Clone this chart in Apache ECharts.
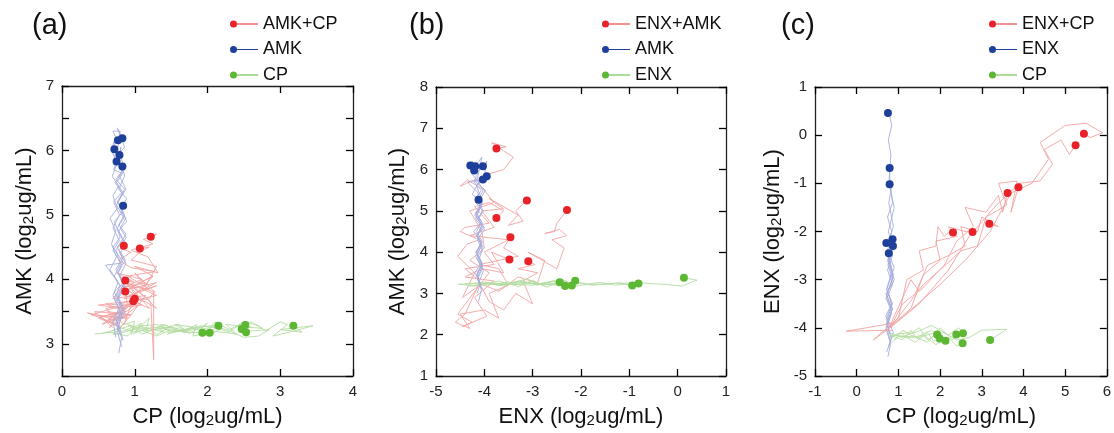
<!DOCTYPE html>
<html>
<head>
<meta charset="utf-8">
<script src="https://cdn.jsdelivr.net/npm/echarts@6/dist/echarts.min.js"></script>
<style>
  html, body { margin: 0; padding: 0; background: #fff; }
  #chart { width: 1114px; height: 433px; }
</style>
</head>
<body>
<div id="chart"></div>
<script>
// ---- panel (a): AMK vs CP ----
var aComboEnd = [[0.85,4.52],[1.22,4.66],[1.07,4.48],[0.87,3.98],[0.87,3.81],[1.00,3.70],[0.98,3.66]];
var aAmkEnd = [[0.77,6.16],[0.83,6.19],[0.72,6.02],[0.79,5.93],[0.75,5.83],[0.83,5.75],[0.84,5.14]];
var aCpEnd = [[1.93,3.17],[2.03,3.17],[2.15,3.28],[2.47,3.23],[2.52,3.29],[2.53,3.18],[3.18,3.28]];

var aComboPaths = [
  [[0.74,3.28],[0.52,3.42],[0.88,3.5],[0.6,3.62],[0.98,3.58],[0.7,3.35],[1.05,3.72],[0.82,3.9],[1.2,3.85],[0.9,4.05],[1.28,4.12],[0.95,4.18],[0.78,4.3],[0.95,4.42],[0.80,4.48],[0.85,4.52]],
  [[0.80,3.3],[0.62,3.5],[0.95,3.45],[1.15,3.75],[0.85,3.7],[1.3,3.95],[0.92,3.85],[1.25,4.05],[1.0,4.2],[1.32,4.1],[1.18,4.35],[0.95,4.45],[1.25,4.55],[1.12,4.62],[1.3,4.7],[1.22,4.66]],
  [[0.70,3.25],[0.45,3.5],[0.9,3.45],[0.55,3.3],[1.05,3.7],[0.88,3.95],[1.28,3.8],[1.0,4.1],[1.15,3.9],[1.3,4.2],[0.95,4.3],[1.1,4.45],[1.2,4.5],[1.07,4.48]],
  [[0.75,3.3],[0.35,3.48],[0.65,3.4],[0.9,3.6],[0.6,3.55],[0.85,3.3],[1.0,3.75],[0.7,3.7],[0.8,3.85],[1.1,4.0],[0.75,4.1],[1.0,3.95],[0.87,3.98]],
  [[0.78,3.22],[0.95,3.45],[0.6,3.35],[0.88,3.55],[0.5,3.6],[1.2,3.7],[1.26,3.8],[1.26,2.75],[1.22,3.65],[0.95,3.9],[1.15,3.95],[0.9,3.6],[0.87,3.81]],
  [[0.72,3.3],[0.5,3.4],[0.82,3.5],[0.65,3.25],[1.05,3.6],[0.78,3.62],[1.3,3.75],[1.1,3.85],[1.25,4.05],[0.98,3.9],[1.3,3.55],[1.15,3.65],[1.00,3.70]],
  [[0.80,3.25],[0.65,3.38],[0.9,3.4],[0.40,3.45],[0.70,3.55],[1.1,3.6],[0.92,3.75],[1.3,3.9],[1.05,3.8],[0.85,4.0],[1.2,3.55],[0.98,3.66]]
];
var aAmkPaths = [
  [[0.80,3.2],[0.74,3.4],[0.82,3.6],[0.72,3.8],[0.84,3.95],[0.74,4.15],[0.82,4.3],[0.70,4.5],[0.80,4.65],[0.72,4.9],[0.84,5.05],[0.76,5.2],[0.86,5.4],[0.74,5.55],[0.84,5.7],[0.72,5.9],[0.78,6.1],[0.70,6.3],[0.80,6.3],[0.77,6.16]],
  [[0.78,2.85],[0.82,3.1],[0.74,3.3],[0.84,3.5],[0.75,3.7],[0.86,3.9],[0.77,4.1],[0.84,4.3],[0.76,4.5],[0.88,4.7],[0.78,4.85],[0.86,5.0],[0.77,5.2],[0.88,5.4],[0.79,5.6],[0.86,5.75],[0.78,5.95],[0.86,6.05],[0.76,6.35],[0.83,6.19]],
  [[0.74,3.1],[0.70,3.35],[0.78,3.55],[0.70,3.75],[0.77,3.95],[0.66,4.15],[0.75,4.35],[0.68,4.55],[0.74,4.75],[0.66,4.95],[0.76,5.1],[0.70,5.3],[0.78,5.45],[0.69,5.6],[0.76,5.8],[0.68,6.0],[0.73,6.2],[0.72,6.02]],
  [[0.82,2.95],[0.76,3.2],[0.82,3.45],[0.74,3.65],[0.83,3.85],[0.60,4.22],[0.80,4.25],[0.74,4.45],[0.84,4.6],[0.76,4.8],[0.85,4.95],[0.75,5.15],[0.84,5.35],[0.75,5.5],[0.84,5.65],[0.77,5.8],[0.81,6.05],[0.79,5.93]],
  [[0.76,3.3],[0.80,3.5],[0.72,3.7],[0.80,3.9],[0.72,4.05],[0.81,4.25],[0.70,4.45],[0.79,4.6],[0.70,4.8],[0.79,5.0],[0.71,5.2],[0.82,5.35],[0.73,5.5],[0.82,5.65],[0.71,5.7],[0.75,5.83]],
  [[0.84,3.05],[0.78,3.3],[0.86,3.5],[0.77,3.7],[0.86,3.85],[0.79,4.05],[0.88,4.25],[0.80,4.4],[0.87,4.55],[0.78,4.75],[0.89,4.9],[0.80,5.1],[0.89,5.25],[0.78,5.4],[0.86,5.6],[0.83,5.75]],
  [[0.80,3.15],[0.74,3.35],[0.85,3.55],[0.76,3.75],[0.86,3.95],[0.77,4.1],[0.87,4.3],[0.79,4.45],[0.88,4.65],[0.80,4.8],[0.88,4.95],[0.81,5.05],[0.84,5.14]]
];
var aCpPaths = [
  [[0.55,3.16],[0.8,3.24],[0.7,3.14],[1.0,3.22],[0.9,3.3],[1.2,3.2],[1.05,3.28],[1.4,3.18],[1.3,3.26],[1.6,3.24],[1.45,3.15],[1.8,3.26],[1.65,3.18],[1.93,3.17]],
  [[0.7,3.2],[0.85,3.3],[1.0,3.35],[0.95,3.15],[1.2,3.24],[1.3,3.14],[1.5,3.28],[1.45,3.18],[1.7,3.2],[1.85,3.3],[1.8,3.12],[2.03,3.17]],
  [[0.45,3.15],[0.85,3.2],[1.1,3.32],[1.0,3.18],[1.25,3.26],[1.45,3.22],[1.35,3.3],[1.7,3.2],[1.55,3.3],[1.9,3.24],[2.0,3.32],[1.9,3.22],[2.15,3.28]],
  [[0.8,3.25],[1.0,3.18],[1.2,3.4],[1.15,3.2],[1.4,3.24],[1.6,3.3],[1.75,3.16],[1.9,3.26],[2.2,3.3],[2.05,3.2],[2.4,3.15],[2.25,3.3],[2.6,3.26],[2.47,3.23]],
  [[0.75,3.22],[0.95,3.28],[1.1,3.15],[1.3,3.24],[1.4,3.3],[1.6,3.2],[1.8,3.24],[2.0,3.18],[2.1,3.34],[2.3,3.22],[2.45,3.3],[2.6,3.34],[2.75,3.24],[2.4,3.27],[2.52,3.29]],
  [[0.65,3.18],[0.9,3.12],[1.0,3.25],[1.3,3.12],[1.5,3.22],[1.7,3.18],[1.9,3.26],[2.0,3.12],[2.2,3.24],[2.3,3.2],[2.5,3.1],[2.7,3.12],[2.85,3.22],[2.6,3.2],[2.53,3.18]],
  [[0.9,3.2],[1.1,3.28],[1.3,3.3],[1.5,3.2],[1.7,3.2],[1.9,3.28],[2.1,3.25],[2.3,3.18],[2.5,3.35],[2.7,3.28],[2.8,3.2],[3.0,3.34],[3.1,3.3],[2.9,3.12],[3.2,3.2],[3.45,3.28],[3.0,3.22],[3.3,3.18],[3.18,3.28]]
];

// ---- panel (b): AMK vs ENX ----
var bComboEnd = [[-3.75,6.51],[-3.12,5.25],[-2.29,5.02],[-3.75,4.83],[-3.46,4.36],[-3.48,3.82],[-3.09,3.78]];
var bAmkEnd = [[-4.29,6.10],[-4.19,6.08],[-4.21,5.98],[-4.03,6.08],[-3.95,5.84],[-4.03,5.76],[-4.12,5.27]];
var bEnxEnd = [[-2.44,3.27],[-2.33,3.18],[-2.19,3.19],[-2.12,3.31],[-0.94,3.19],[-0.81,3.24],[0.13,3.38]];

var bComboPaths = [
  [[-4.1,3.2],[-3.9,3.5],[-4.3,3.8],[-4.0,4.1],[-4.05,4.5],[-4.3,5.0],[-3.8,5.2],[-4.0,5.5],[-4.35,5.75],[-4.5,5.6],[-3.9,5.9],[-3.6,6.0],[-3.4,6.3],[-3.6,6.45],[-3.85,6.65],[-3.55,6.55],[-3.75,6.51]],
  [[-4.1,3.3],[-4.4,3.6],[-3.8,3.7],[-4.0,4.0],[-3.5,4.3],[-4.3,4.4],[-3.8,4.6],[-4.05,5.0],[-3.6,5.05],[-3.9,5.3],[-3.3,4.9],[-3.5,4.65],[-3.2,4.75],[-3.35,5.0],[-3.12,5.25]],
  [[-4.1,3.25],[-3.7,3.05],[-3.3,3.4],[-2.9,3.25],[-2.75,3.8],[-3.1,4.0],[-2.5,3.6],[-2.35,4.1],[-2.6,4.3],[-2.3,4.4],[-2.45,4.55],[-2.75,4.45],[-2.55,4.5],[-2.5,4.7],[-2.29,5.02]],
  [[-4.1,3.2],[-4.45,2.9],[-4.2,3.5],[-4.55,3.9],[-4.35,4.2],[-4.1,4.3],[-4.5,4.5],[-4.4,4.6],[-3.9,4.7],[-4.2,5.1],[-3.9,5.2],[-3.6,5.0],[-3.75,4.83]],
  [[-4.1,3.25],[-4.4,2.5],[-4.6,2.3],[-4.3,2.15],[-4.5,2.5],[-4.0,2.6],[-3.7,2.4],[-3.9,3.0],[-3.5,3.2],[-3.7,3.6],[-4.1,3.7],[-3.3,3.9],[-3.6,4.1],[-3.46,4.36]],
  [[-4.1,3.2],[-4.55,2.5],[-4.25,2.3],[-4.45,2.2],[-3.95,2.45],[-4.2,2.9],[-3.8,3.3],[-4.4,3.4],[-4.05,3.6],[-3.6,3.5],[-3.85,4.0],[-3.48,3.82]],
  [[-4.1,3.25],[-3.9,2.8],[-3.6,2.6],[-3.35,3.0],[-3.0,2.75],[-3.2,3.3],[-2.9,3.5],[-3.3,3.6],[-2.95,3.7],[-3.09,3.78]]
];
var bAmkPaths = [
  [[-4.12,2.8],[-4.06,3.1],[-4.14,3.4],[-4.04,3.65],[-4.18,3.9],[-4.05,4.15],[-4.16,4.4],[-4.04,4.65],[-4.2,4.9],[-4.08,5.1],[-4.18,5.3],[-4.06,5.5],[-4.22,5.7],[-4.1,6.0],[-4.25,6.2],[-4.29,6.10]],
  [[-4.1,3.2],[-4.16,3.45],[-4.04,3.7],[-4.15,3.95],[-4.05,4.2],[-4.16,4.4],[-4.0,4.6],[-4.14,4.8],[-4.04,5.0],[-4.17,5.2],[-4.02,5.5],[-4.15,5.75],[-4.05,6.3],[-4.19,6.08]],
  [[-4.15,3.0],[-4.08,3.25],[-4.2,3.5],[-4.06,3.75],[-4.16,4.0],[-4.06,4.25],[-4.22,4.5],[-4.08,4.7],[-4.18,4.95],[-4.05,5.2],[-4.25,5.4],[-4.12,5.7],[-4.26,5.9],[-4.21,5.98]],
  [[-4.06,3.1],[-4.14,3.35],[-4.04,3.6],[-4.16,3.85],[-4.02,4.1],[-4.14,4.4],[-4.04,4.7],[-4.16,4.95],[-4.03,5.2],[-4.16,5.6],[-4.0,5.85],[-3.95,6.2],[-4.03,6.08]],
  [[-4.1,3.3],[-4.02,3.55],[-4.12,3.8],[-4.04,4.05],[-4.14,4.3],[-4.0,4.55],[-4.12,4.8],[-4.02,5.0],[-4.12,5.2],[-3.98,5.5],[-4.2,5.72],[-3.92,5.75],[-3.95,5.84]],
  [[-4.08,3.2],[-4.15,3.45],[-4.05,3.7],[-4.18,4.0],[-4.04,4.25],[-4.16,4.5],[-4.06,4.75],[-4.18,4.9],[-4.06,5.1],[-4.14,5.45],[-4.35,5.7],[-4.03,5.76]],
  [[-4.1,3.25],[-4.14,3.5],[-4.05,3.75],[-4.16,4.0],[-4.06,4.2],[-4.15,4.4],[-4.04,4.6],[-4.18,4.8],[-4.06,5.15],[-4.12,5.27]]
];
var bEnxPaths = [
  [[-4.5,3.22],[-4.2,3.18],[-4.0,3.25],[-3.6,3.18],[-3.4,3.26],[-3.2,3.3],[-2.9,3.2],[-2.7,3.26],[-2.6,3.3],[-2.44,3.27]],
  [[-4.1,3.2],[-3.9,3.26],[-3.7,3.3],[-3.4,3.2],[-3.2,3.24],[-3.0,3.28],[-2.7,3.15],[-2.55,3.24],[-2.45,3.22],[-2.33,3.18]],
  [[-4.3,3.18],[-4.0,3.2],[-3.8,3.22],[-3.5,3.28],[-3.3,3.16],[-3.0,3.32],[-2.8,3.2],[-2.6,3.22],[-2.3,3.3],[-2.19,3.19]],
  [[-4.0,3.28],[-3.7,3.2],[-3.5,3.25],[-3.1,3.35],[-2.9,3.22],[-2.8,3.25],[-2.4,3.34],[-2.2,3.24],[-2.12,3.31]],
  [[-4.2,3.2],[-3.9,3.24],[-3.6,3.22],[-3.3,3.28],[-3.0,3.24],[-2.5,3.2],[-2.0,3.26],[-1.8,3.2],[-1.5,3.22],[-1.2,3.26],[-0.94,3.19]],
  [[-4.4,3.24],[-4.0,3.26],[-3.7,3.2],[-3.2,3.26],[-2.9,3.22],[-2.6,3.24],[-2.1,3.18],[-1.6,3.27],[-1.3,3.2],[-1.1,3.22],[-0.81,3.24]],
  [[-4.55,3.22],[-3.8,3.25],[-3.4,3.22],[-3.0,3.2],[-2.6,3.28],[-2.2,3.26],[-1.8,3.22],[-1.5,3.23],[-1.1,3.25],[-0.8,3.26],[-0.3,3.22],[0.1,3.18],[0.3,3.28],[0.4,3.32],[0.13,3.38]]
];

// ---- panel (c): ENX vs CP ----
var cComboEnd = [[2.31,-2.02],[2.78,-2.01],[3.18,-1.84],[3.62,-1.20],[3.88,-1.08],[5.25,-0.21],[5.45,0.03]];
var cEnxEnd = [[0.75,0.46],[0.79,-0.68],[0.79,-1.02],[0.71,-2.24],[0.86,-2.16],[0.87,-2.30],[0.77,-2.45]];
var cCpEnd = [[1.93,-4.14],[1.99,-4.22],[2.13,-4.27],[2.39,-4.14],[2.55,-4.11],[2.54,-4.32],[3.20,-4.25]];

var cComboPaths = [
  [[0.8,-4.0],[0.4,-4.25],[1.0,-3.8],[1.2,-3.0],[1.6,-2.8],[1.5,-2.4],[1.9,-2.3],[1.95,-1.9],[2.1,-2.1],[2.3,-1.95],[2.31,-2.02]],
  [[0.85,-4.05],[-0.25,-4.07],[0.9,-3.9],[1.3,-3.6],[1.6,-2.9],[2.0,-2.6],[1.9,-2.2],[2.4,-2.1],[2.2,-1.9],[2.6,-2.0],[2.78,-2.01]],
  [[0.8,-4.0],[1.1,-3.5],[1.4,-3.3],[1.7,-2.7],[2.2,-2.5],[2.6,-2.3],[2.5,-1.9],[2.9,-2.0],[3.0,-1.7],[3.4,-1.9],[3.18,-1.84]],
  [[0.8,-3.95],[1.3,-3.0],[1.5,-3.25],[2.1,-2.7],[2.4,-2.2],[2.8,-1.9],[2.6,-1.5],[3.1,-1.6],[3.4,-1.25],[3.5,-1.6],[3.62,-1.20]],
  [[0.8,-4.0],[1.6,-3.1],[2.0,-2.8],[2.5,-2.4],[2.9,-2.3],[3.1,-1.7],[3.6,-1.45],[3.4,-1.0],[3.85,-0.95],[3.7,-1.6],[3.88,-1.08]],
  [[0.8,-4.0],[1.5,-3.5],[2.2,-2.8],[2.7,-2.1],[3.3,-1.5],[3.9,-1.0],[4.4,-0.95],[4.7,-0.6],[4.5,-0.3],[4.9,-0.1],[5.1,-0.4],[5.25,-0.21]],
  [[0.8,-4.0],[1.2,-3.7],[2.0,-3.1],[2.6,-2.6],[3.2,-2.0],[3.7,-1.2],[4.2,-1.0],[4.6,-0.5],[4.4,-0.15],[5.0,0.2],[5.5,0.25],[5.9,0.05],[5.6,-0.05],[5.45,0.03]]
];
var cEnxPaths = [
  [[0.78,-4.1],[0.72,-3.8],[0.84,-3.5],[0.72,-3.2],[0.85,-2.8],[0.74,-2.4],[0.84,-2.0],[0.74,-1.7],[0.86,-1.4],[0.78,-0.9],[0.82,-0.4],[0.76,-0.1],[0.84,0.2],[0.79,0.4],[0.75,0.46]],
  [[0.75,-4.6],[0.82,-4.3],[0.72,-4.0],[0.84,-3.65],[0.72,-3.3],[0.87,-2.95],[0.74,-2.6],[0.86,-2.3],[0.76,-2.0],[0.9,-1.5],[0.8,-1.1],[0.79,-0.68]],
  [[0.8,-4.3],[0.7,-4.0],[0.84,-3.7],[0.72,-3.4],[0.86,-3.1],[0.74,-2.8],[0.86,-2.5],[0.76,-2.2],[0.88,-1.9],[0.77,-1.4],[0.83,-1.1],[0.79,-1.02]],
  [[0.72,-4.5],[0.84,-4.2],[0.72,-3.9],[0.86,-3.6],[0.7,-3.4],[0.88,-2.9],[0.74,-2.5],[0.8,-2.3],[0.71,-2.24]],
  [[0.82,-4.2],[0.72,-3.9],[0.86,-3.6],[0.7,-3.3],[0.9,-3.0],[0.76,-2.6],[0.92,-2.3],[0.86,-2.16]],
  [[0.76,-4.4],[0.88,-4.1],[0.74,-3.8],[0.86,-3.5],[0.72,-3.2],[0.9,-2.75],[0.78,-2.5],[0.87,-2.30]],
  [[0.8,-4.0],[0.7,-3.75],[0.84,-3.5],[0.74,-3.25],[0.88,-3.05],[0.75,-2.7],[0.8,-2.5],[0.77,-2.45]]
];
var cCpPaths = [
  [[0.8,-4.15],[1.1,-4.25],[1.3,-4.05],[1.45,-4.22],[1.6,-4.12],[1.8,-4.05],[1.93,-4.14]],
  [[0.85,-4.2],[1.05,-4.1],[1.2,-4.2],[1.4,-4.3],[1.7,-4.1],[1.85,-4.28],[1.99,-4.22]],
  [[0.8,-4.1],[1.1,-4.2],[1.3,-4.12],[1.5,-4.0],[1.7,-4.25],[2.0,-4.1],[2.13,-4.27]],
  [[0.9,-4.25],[1.1,-4.05],[1.3,-4.15],[1.7,-4.3],[2.0,-4.0],[2.3,-4.25],[2.39,-4.14]],
  [[0.8,-4.2],[1.0,-4.12],[1.4,-4.1],[1.8,-3.95],[2.2,-4.15],[2.45,-4.0],[2.55,-4.11]],
  [[0.85,-4.3],[1.0,-4.18],[1.3,-4.2],[1.6,-4.15],[1.9,-4.35],[2.2,-4.2],[2.4,-4.38],[2.54,-4.32]],
  [[0.8,-4.15],[1.5,-4.2],[1.8,-4.12],[2.1,-4.1],[2.4,-4.25],[2.7,-4.2],[3.0,-4.05],[3.6,-4.03],[3.3,-4.2],[3.20,-4.25]]
];

var red = '#e82228', blue = '#1e3f9a', green = '#5cb733';
var redLine = '#f3a3a3', blueLine = '#a8aedb', greenLine = '#b4dca3';
var font = 'Liberation Sans, Arial, sans-serif';
var legendIcon = 'path://M0,3.5a3.5,3.5 0 1,0 7,0a3.5,3.5 0 1,0 -7,0Z M7,3.1L28,3.1L28,3.9L7,3.9Z';

var panels = [
  { tag: '(a)', grid: { left: 62, top: 86, width: 291, height: 291 },
    x: { min: 0, max: 4, interval: 1, name: 'CP' }, y: { min: 2.5, max: 7, interval: 0.5, name: 'AMK', gap: 26 },
    titleLeft: 27, legendLeft: 230,
    groups: [['AMK+CP', aComboEnd, aComboPaths, red, redLine], ['AMK', aAmkEnd, aAmkPaths, blue, blueLine], ['CP', aCpEnd, aCpPaths, green, greenLine]],
    lineOrder: [2, 0, 1] },
  { tag: '(b)', grid: { left: 436, top: 87, width: 290, height: 290 },
    x: { min: -5, max: 1, interval: 1, name: 'ENX' }, y: { min: 1, max: 8, interval: 1, name: 'AMK', gap: 27 },
    titleLeft: 404, legendLeft: 602,
    groups: [['ENX+AMK', bComboEnd, bComboPaths, red, redLine], ['AMK', bAmkEnd, bAmkPaths, blue, blueLine], ['ENX', bEnxEnd, bEnxPaths, green, greenLine]],
    lineOrder: [0, 2, 1] },
  { tag: '(c)', grid: { left: 815, top: 87, width: 292, height: 289 },
    x: { min: -1, max: 6, interval: 1, name: 'CP' }, y: { min: -5, max: 1, interval: 1, name: 'ENX', gap: 31 },
    titleLeft: 776, legendLeft: 989,
    groups: [['ENX+CP', cComboEnd, cComboPaths, red, redLine], ['ENX', cEnxEnd, cEnxPaths, blue, blueLine], ['CP', cCpEnd, cCpPaths, green, greenLine]],
    lineOrder: [1, 2, 0] }
];

var nameRich = {
  m: { fontSize: 22, fontFamily: font, color: '#111', lineHeight: 26, verticalAlign: 'bottom' },
  s: { fontSize: 15, fontFamily: font, color: '#111', lineHeight: 10, verticalAlign: 'bottom' }
};
function axisName(lbl) { return '{m|' + lbl + ' (log}{s|2}{m|ug/mL)}'; }

// fresh style objects for each axis
function tk() { return { show: true, inside: true, length: 7, lineStyle: { color: '#000', width: 1.3 } }; }
function al() { return { show: true, onZero: false, lineStyle: { color: '#222', width: 1.3 } }; }
function lbl() { return { fontSize: 15, fontFamily: font, color: '#222', margin: 8 }; }

var option = { animation: false, title: [], legend: [], grid: [], xAxis: [], yAxis: [], series: [] };

panels.forEach(function (p, i) {
  option.grid.push(p.grid);
  option.title.push({ text: p.tag, left: p.titleLeft, top: 6, textStyle: { fontSize: 29, fontWeight: 'normal', fontFamily: font, color: '#111' } });

  // axes drawn above the plotted marks so the frame ticks stay visible
  option.xAxis.push({ gridIndex: i, type: 'value', z: 5, min: p.x.min, max: p.x.max, interval: p.x.interval,
    axisLine: al(), axisTick: tk(), splitLine: { show: false }, axisLabel: lbl(),
    name: axisName(p.x.name), nameLocation: 'middle', nameGap: 26, nameTextStyle: { rich: nameRich } });
  option.xAxis.push({ gridIndex: i, type: 'value', z: 5, position: 'top', min: p.x.min, max: p.x.max, interval: p.x.interval,
    axisLine: al(), axisTick: tk(), splitLine: { show: false }, axisLabel: { show: false } });
  var ylbl = lbl();
  ylbl.formatter = function (v) { return Math.abs(v % 1) < 1e-9 ? String(v) : ''; };
  option.yAxis.push({ gridIndex: i, type: 'value', z: 5, min: p.y.min, max: p.y.max, interval: p.y.interval,
    axisLine: al(), axisTick: tk(), splitLine: { show: false }, axisLabel: ylbl,
    name: axisName(p.y.name), nameLocation: 'middle', nameRotate: 90, nameGap: p.y.gap, nameTextStyle: { rich: nameRich } });
  option.yAxis.push({ gridIndex: i, type: 'value', z: 5, position: 'right', min: p.y.min, max: p.y.max, interval: p.y.interval,
    axisLine: al(), axisTick: tk(), splitLine: { show: false }, axisLabel: { show: false } });

  var xi = i * 2, yi = i * 2;
  // trajectories
  p.lineOrder.forEach(function (g) {
    var grp = p.groups[g];
    grp[2].forEach(function (path) {
      option.series.push({ type: 'line', xAxisIndex: xi, yAxisIndex: yi, data: path, showSymbol: false, silent: true,
        lineStyle: { color: grp[4], width: 0.9 } });
    });
  });
  // end points
  var legendData = [];
  p.groups.forEach(function (grp) {
    var sname = i + ':' + grp[0];
    legendData.push({ name: sname, icon: legendIcon, itemStyle: { color: grp[3] } });
    option.series.push({ type: 'scatter', name: sname, xAxisIndex: xi, yAxisIndex: yi, data: grp[1],
      symbolSize: 8, itemStyle: { color: grp[3], opacity: 1 }, z: 3 });
  });
  option.legend.push({ orient: 'vertical', left: p.legendLeft, top: 14, padding: 0, itemWidth: 28, itemHeight: 7, itemGap: 5.5,
    data: legendData, selectedMode: false,
    formatter: function (n) { return n.split(':')[1]; },
    textStyle: { fontSize: 18, fontFamily: font, color: '#111', lineHeight: 20 } });
});

var chart = echarts.init(document.getElementById('chart'));
chart.setOption(option);
</script>
</body>
</html>
